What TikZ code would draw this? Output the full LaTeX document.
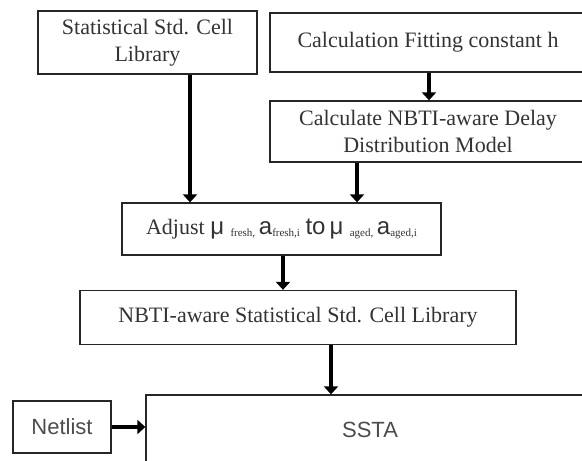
\documentclass[tikz,border=0pt]{standalone}
\usepackage{fontspec}
\setmainfont{Liberation Serif}
\newfontfamily\arialf{Liberation Sans}
\usetikzlibrary{arrows.meta}
\newcommand{\tinysub}[1]{\raisebox{-2pt}{\fontsize{11}{11}\selectfont #1}}
\begin{document}
\begin{tikzpicture}[x=1pt,y=-1pt,
  boxnode/.style={draw=black!85,line width=1.3pt,rectangle,inner sep=0pt,text=black!80,align=center,font=\fontsize{22}{27}\selectfont},
  sansbox/.style={boxnode,font=\arialf\fontsize{22}{26}\selectfont,text=black!70},
  arr/.style={line width=4.2pt,-{Triangle[length=8pt,width=14pt]},black}]
\useasboundingbox (0,0) rectangle (582,461);
\clip (0,0) rectangle (582,461);
\node[boxnode,minimum width=219pt,minimum height=63pt] (lib) at (147.5,42.5)
  {\fontsize{22}{30}\selectfont Statistical Std. Cell\\Library};
\node[boxnode,minimum width=316pt,minimum height=59pt] (fit) at (428,42.5)
  {Calculation Fitting constant h};
\node[boxnode,minimum width=316pt,minimum height=61pt] (model) at (428,131.5)
  {\fontsize{22}{25}\selectfont Calculate NBTI-aware Delay\\Distribution Model};
\node[boxnode,minimum width=319pt,minimum height=52pt] (adj) at (281.5,229)
  {Adjust {\arialf\fontsize{24}{24}\selectfont μ}\,\tinysub{\ fresh,}\,{\arialf\fontsize{24}{24}\selectfont a}\tinysub{fresh,i} {\arialf\fontsize{24}{24}\selectfont to\,μ}\,\tinysub{\ aged,}\,{\arialf\fontsize{24}{24}\selectfont a}\tinysub{aged,i}};
\node[boxnode,minimum width=436pt,minimum height=54pt] (nlib) at (298,317.5)
  {NBTI-aware Statistical Std. Cell Library};
\node[sansbox,minimum width=98pt,minimum height=52pt] (net) at (62,427)
  {Netlist};
\node[sansbox,minimum width=448pt,minimum height=70pt] (ssta) at (370,430)
  {SSTA};
\coordinate (c1) at (190,0);
\coordinate (c2) at (429,0);
\coordinate (c3) at (357,0);
\coordinate (c4) at (283,0);
\coordinate (c5) at (331,0);
\draw[arr] (lib.south -| c1) -- (adj.north -| c1);
\draw[arr] (fit.south -| c2) -- (model.north -| c2);
\draw[arr] (model.south -| c3) -- (adj.north -| c3);
\draw[arr] (adj.south -| c4) -- (nlib.north -| c4);
\draw[arr] (nlib.south -| c5) -- (ssta.north -| c5);
\draw[arr] (net.east) -- (ssta.west |- net.east);
\end{tikzpicture}
\end{document}
